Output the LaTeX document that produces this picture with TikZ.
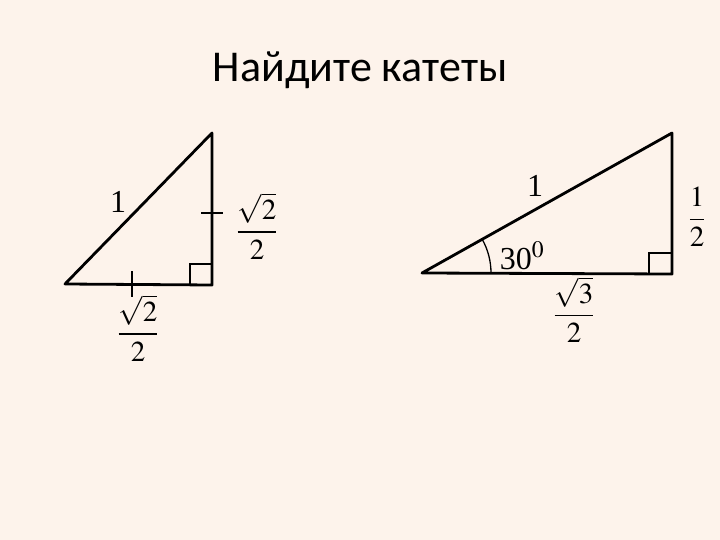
\documentclass[tikz,border=0pt]{standalone}
\usepackage{amsmath}
\usepackage{mathptmx}
\usepackage{fontspec}
\setmainfont{Liberation Serif}
\newfontfamily\titlefont{Carlito}
\definecolor{bgc}{RGB}{253,243,235}
\tikzset{
  leg/.style={line width=2.8pt, line cap=round, line join=round},
  tick/.style={line width=1.4pt},
  rbox/.style={line width=1.6pt},
  lbl/.style={inner sep=0pt, font=\fontsize{32}{36}\selectfont},
  frc/.style={inner sep=0pt, font=\fontsize{29}{34}\selectfont}
}
\begin{document}
\begin{tikzpicture}[x=1pt,y=-1pt]
\fill[bgc] (0,0) rectangle (720,540);
\useasboundingbox (0,0) rectangle (720,540);
\node[inner sep=0pt, font=\titlefont\fontsize{44}{48}\selectfont] (title) at (360,70) {Найдите катеты};
% left triangle
\coordinate (A) at (65,284);
\coordinate (B) at (212,133);
\coordinate (C) at (212,285);
\draw[leg] (A) -- (B) -- (C) -- cycle;
\draw[rbox] (190,285) -- (190,264) -- (212,264);
\coordinate (t1a) at (201,213); \coordinate (t1b) at (223,213);
\draw[tick] (t1a) -- (t1b);
\coordinate (t2a) at (132,271); \coordinate (t2b) at (132,297);
\draw[tick] (t2a) -- (t2b);
\node[lbl] (h1) at (118,202) {1};
\node[frc] (f1) at (257,226) {$\dfrac{\sqrt{2}}{2}$};
\node[frc] (f2) at (138,328) {$\dfrac{\sqrt{2}}{2}$};
% right triangle
\coordinate (D) at (422,273);
\coordinate (E) at (672,133);
\coordinate (F) at (672,274);
\draw[leg] (D) -- (E) -- (F) -- cycle;
\draw[rbox] (649,274) -- (649,253) -- (672,253);
\draw[line width=2.4pt] (649,274) -- (672,274);
\draw[line width=1.3pt] (491,273) arc[start angle=0, end angle=-29.25, radius=69];
\node[lbl] (a30) at (522,256) {30$^{\mathrm{0}}$};
\node[lbl] (h2) at (535,186) {1};
\node[frc] (f3) at (697,217) {$\dfrac{1}{2}$};
\node[frc] (f4) at (574,310) {$\dfrac{\sqrt{3}}{2}$};
\end{tikzpicture}
\end{document}
